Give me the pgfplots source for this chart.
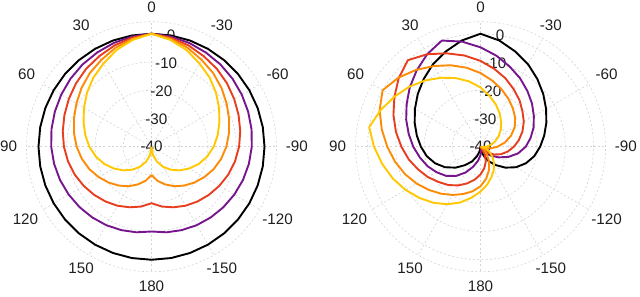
\documentclass[border=0pt]{standalone}
\usepackage{fontspec}
\setmainfont{Liberation Sans}
\usepackage{pgfplots}
\usepackage{pgfplotstable}
\pgfplotsset{compat=1.18}
\definecolor{cpur}{RGB}{118,22,140}
\definecolor{cred}{RGB}{232,62,32}
\definecolor{cora}{RGB}{252,140,8}
\definecolor{cyel}{RGB}{255,200,0}

% left plot: theta (deg, 0 at top, CCW positive), level in dB
\pgfplotstableread{
t k p r o y
-180 0 -10 -20 -30 -40
-170 0 -9.25 -18.5 -27.75 -37.0
-160 0 -8.6 -17.2 -25.8 -34.4
-150 0 -7.95 -15.9 -23.85 -31.8
-140 0 -7.35 -14.7 -22.05 -29.4
-130 0 -6.75 -13.5 -20.25 -27.0
-120 0 -6.15 -12.3 -18.45 -24.6
-110 0 -5.55 -11.1 -16.65 -22.2
-100 0 -5.0 -10.0 -15.0 -20.0
-90 0 -4.5 -9.0 -13.5 -18.0
-80 0 -4.05 -8.1 -12.15 -16.2
-70 0 -3.6 -7.2 -10.8 -14.4
-60 0 -3.1 -6.2 -9.3 -12.4
-50 0 -2.55 -5.1 -7.65 -10.2
-40 0 -2.0 -4.0 -6.0 -8.0
-30 0 -1.5 -3.0 -4.5 -6.0
-20 0 -0.9 -1.8 -2.7 -3.6
-10 0 -0.4 -0.8 -1.2 -1.6
0 0 0 0 0 0
10 0 -0.4 -0.8 -1.2 -1.6
20 0 -0.9 -1.8 -2.7 -3.6
30 0 -1.5 -3.0 -4.5 -6.0
40 0 -2.0 -4.0 -6.0 -8.0
50 0 -2.55 -5.1 -7.65 -10.2
60 0 -3.1 -6.2 -9.3 -12.4
70 0 -3.6 -7.2 -10.8 -14.4
80 0 -4.05 -8.1 -12.15 -16.2
90 0 -4.5 -9.0 -13.5 -18.0
100 0 -5.0 -10.0 -15.0 -20.0
110 0 -5.55 -11.1 -16.65 -22.2
120 0 -6.15 -12.3 -18.45 -24.6
130 0 -6.75 -13.5 -20.25 -27.0
140 0 -7.35 -14.7 -22.05 -29.4
150 0 -7.95 -15.9 -23.85 -31.8
160 0 -8.6 -17.2 -25.8 -34.4
170 0 -9.25 -18.5 -27.75 -37.0
180 0 -10 -20 -30 -40
}\lefttab

% right plot
\pgfplotstableread{
t k p r o y
-180 -40 -37.0 -30.2 -26.0 -24.1
-170 -38.5 -38.5 -32.3 -28.5 -26.4
-160 -36.5 -40 -34.5 -31.2 -28.6
-150 -34.0 -38.5 -37.0 -34.0 -30.6
-140 -31.5 -37.0 -40 -36.5 -32.6
-130 -28.5 -35.0 -37.0 -38.5 -34.5
-120 -25.5 -32.5 -34.5 -40 -36.3
-110 -22.9 -29.5 -32.3 -38.5 -38.0
-100 -20.7 -26.5 -30.2 -36.5 -39.5
-90 -18.9 -24.0 -28.2 -34.0 -38.0
-80 -17.1 -22.0 -26.2 -31.2 -36.3
-70 -15.2 -20.0 -24.2 -28.5 -34.5
-60 -13.2 -18.2 -22.3 -26.0 -32.6
-50 -11.0 -16.2 -20.6 -24.0 -30.6
-40 -8.7 -14.2 -18.5 -22.2 -28.6
-30 -6.3 -12.0 -16.5 -20.3 -26.4
-20 -4.1 -9.8 -14.2 -18.3 -24.1
-10 -1.8 -7.3 -12.0 -16.2 -21.7
0 0 -4.8 -9.6 -13.9 -19.0
10 -1.8 -2.2 -7.2 -11.6 -16.5
20 -4.1 0 -4.8 -9.3 -14.1
30 -6.3 -2.2 -2.2 -7.0 -11.8
40 -8.7 -4.8 0 -4.5 -9.4
50 -11.0 -7.3 -2.2 -2.0 -7.0
60 -13.2 -9.8 -4.8 0 -4.7
70 -15.2 -12.0 -7.2 -2.0 -2.3
80 -17.1 -14.2 -9.6 -4.5 0
90 -18.9 -16.2 -12.0 -7.0 -2.3
100 -20.7 -18.2 -14.2 -9.3 -4.7
110 -22.9 -20.0 -16.5 -11.6 -7.0
120 -25.5 -22.0 -18.5 -13.9 -9.4
130 -28.5 -24.0 -20.6 -16.2 -11.8
140 -31.5 -26.5 -22.3 -18.3 -14.1
150 -34.0 -29.5 -24.2 -20.3 -16.5
160 -36.5 -32.5 -26.2 -22.2 -19.0
170 -38.5 -35.0 -28.2 -24.0 -21.7
180 -40 -37.0 -30.2 -26.0 -24.1
}\righttab

\tikzset{
  gridl/.style={black!17, line width=0.3pt, dash pattern=on 1pt off 1.1pt},
  lab/.style={font=\fontsize{7.6}{9}\selectfont, inner sep=0pt, text=black!88},
}
\pgfplotsset{
  polarstyle/.style={hide axis, x=1.4125pt, y=1.4125pt,
    xmin=-45, xmax=45, ymin=-45, ymax=45, clip=false, anchor=origin},
  curve/.style={data cs=polar, line width=0.95pt, line join=round, mark=none},
}
\newcommand\polargrid{%
  \pgfplotsinvokeforeach{14.125pt,28.25pt,42.375pt,56.5pt,62.5pt}{%
    \draw[gridl] (axis cs:0,0) circle[radius=##1];}%
  \pgfplotsinvokeforeach{0,30,60,90,120,150,180,210,240,270,300,330}{%
    \draw[gridl] (axis cs:0,0) -- ++(##1:62.5pt);}%
  \path (axis cs:0,0) ++(90:67pt) node[lab,anchor=270] {0};
  \path (axis cs:0,0) ++(120:67pt) node[lab,anchor=300] {30};
  \path (axis cs:0,0) ++(150:67pt) node[lab,anchor=330] {60};
  \path (axis cs:0,0) ++(180:67pt) node[lab,anchor=0] {90};
  \path (axis cs:0,0) ++(210:67pt) node[lab,anchor=30] {120};
  \path (axis cs:0,0) ++(240:67pt) node[lab,anchor=60] {150};
  \path (axis cs:0,0) ++(270:67pt) node[lab,anchor=90] {180};
  \path (axis cs:0,0) ++(300:67pt) node[lab,anchor=120] {-150};
  \path (axis cs:0,0) ++(330:67pt) node[lab,anchor=150] {-120};
  \path (axis cs:0,0) ++(0:67pt) node[lab,anchor=180] {-90};
  \path (axis cs:0,0) ++(30:67pt) node[lab,anchor=210] {-60};
  \path (axis cs:0,0) ++(60:67pt) node[lab,anchor=240] {-30};
  \path (axis cs:0,0) node[lab] {-40};
  \path (axis cs:0,0) ++(80:14.125pt) node[lab] {-30};
  \path (axis cs:0,0) ++(80:28.25pt) node[lab] {-20};
  \path (axis cs:0,0) ++(80:42.375pt) node[lab] {-10};
  \path (axis cs:0,0) ++(80:56.5pt) node[lab] {0};
}

\begin{document}
\begin{tikzpicture}
\useasboundingbox (0,0) rectangle (320pt,148pt);
\begin{axis}[polarstyle, at={(75.75pt,74.625pt)}]
  \polargrid
  \addplot[curve, black] table[x expr=\thisrow{t}+90, y expr=\thisrow{k}+40] {\lefttab};
  \addplot[curve, cpur] table[x expr=\thisrow{t}+90, y expr=\thisrow{p}+40] {\lefttab};
  \addplot[curve, cred] table[x expr=\thisrow{t}+90, y expr=\thisrow{r}+40] {\lefttab};
  \addplot[curve, cora] table[x expr=\thisrow{t}+90, y expr=\thisrow{o}+40] {\lefttab};
  \addplot[curve, cyel] table[x expr=\thisrow{t}+90, y expr=\thisrow{y}+40] {\lefttab};
\end{axis}
\begin{axis}[polarstyle, at={(240.25pt,74.625pt)}]
  \polargrid
  \addplot[curve, black] table[x expr=\thisrow{t}+90, y expr=\thisrow{k}+40] {\righttab};
  \addplot[curve, cpur] table[x expr=\thisrow{t}+90, y expr=\thisrow{p}+40] {\righttab};
  \addplot[curve, cred] table[x expr=\thisrow{t}+90, y expr=\thisrow{r}+40] {\righttab};
  \addplot[curve, cora] table[x expr=\thisrow{t}+90, y expr=\thisrow{o}+40] {\righttab};
  \addplot[curve, cyel] table[x expr=\thisrow{t}+90, y expr=\thisrow{y}+40] {\righttab};
\end{axis}
\end{tikzpicture}
\end{document}
